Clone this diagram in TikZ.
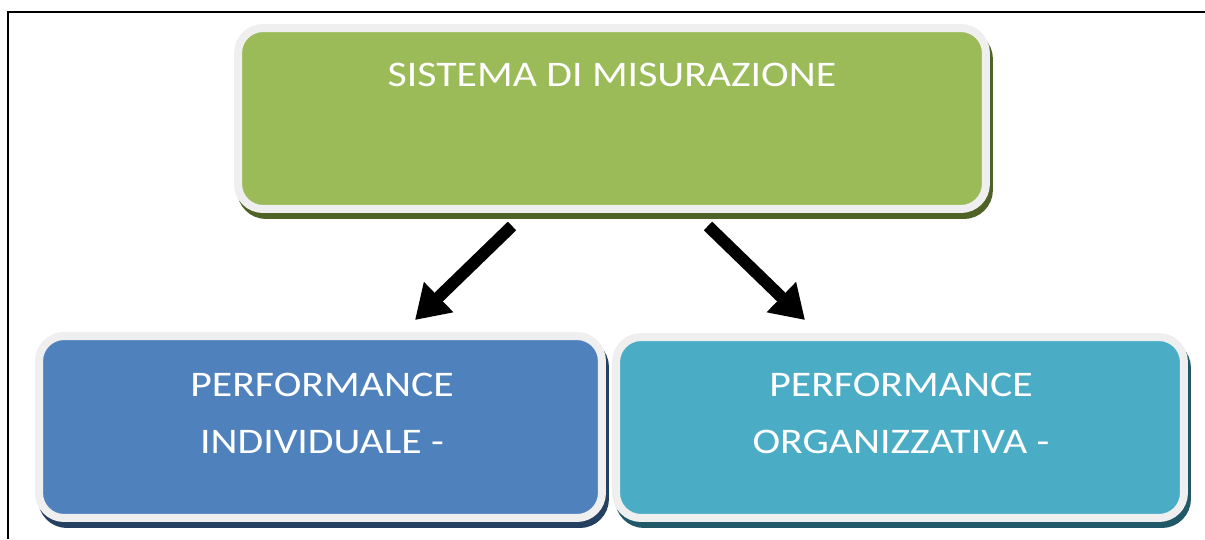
\documentclass[tikz,border=0pt]{standalone}
\usepackage{fontspec}
\setmainfont{Carlito}
\newfontfamily\capfont[FakeStretch=1.16]{Carlito}
\usetikzlibrary{arrows.meta, shadows}

\definecolor{boxgreen}{HTML}{9BBB59}
\definecolor{boxblue}{HTML}{4F81BD}
\definecolor{boxteal}{HTML}{4BACC6}
\definecolor{darkgreen}{HTML}{4F6228}
\definecolor{darkblue}{HTML}{243F60}
\definecolor{darkteal}{HTML}{215868}
\definecolor{rim}{HTML}{EFEFEF}

\tikzset{
  panel/.style={rounded corners=0.5cm, draw=rim, line width=0.16cm, inner sep=0pt},
  panelshadow/.style={drop shadow={opacity=1, fill=#1, draw=#1, line width=0.16cm,
      shadow xshift=0.06cm, shadow yshift=-0.12cm}},
  caption/.style={text=white, font=\capfont\fontsize{20.5}{32}\selectfont, align=center},
  bigarrow/.style={line width=0.24cm, -{Triangle[length=0.66cm, width=0.8cm]}}
}

\begin{document}
\begin{tikzpicture}[x=0.02cm, y=-0.02cm]
    \useasboundingbox (0,0) rectangle (1205,539);
    % Draw the frame
    \draw[line width=1.2pt] (8,539) -- (8,12) -- (1205,12);
    % Draw the boxes
    \node[panel, panelshadow=darkgreen, fill=boxgreen, minimum width=14.96cm, minimum height=3.62cm] (sys) at (612,118.5) {};
    \node[panel, panelshadow=darkblue, fill=boxblue, minimum width=11.26cm, minimum height=3.64cm] (ind) at (320.5,427) {};
    \node[panel, panelshadow=darkteal, fill=boxteal, minimum width=11.36cm, minimum height=3.62cm] (org) at (900,427.5) {};
    % Labels
    \node[caption] (systxt) at (612,75) {SISTEMA DI MISURAZIONE};
    \node[caption] (indtxt) at (322,413.5) {PERFORMANCE\\INDIVIDUALE -};
    \node[caption] (orgtxt) at (901,413.5) {PERFORMANCE\\ORGANIZZATIVA -};
    % Arrows
    \draw[bigarrow] ([xshift=-2cm, yshift=-0.26cm]sys.south) -- ([xshift=1.89cm, yshift=0.24cm]ind.north);
    \draw[bigarrow] ([xshift=1.92cm, yshift=-0.26cm]sys.south) -- ([xshift=-1.9cm, yshift=0.26cm]org.north);
\end{tikzpicture}
\end{document}
